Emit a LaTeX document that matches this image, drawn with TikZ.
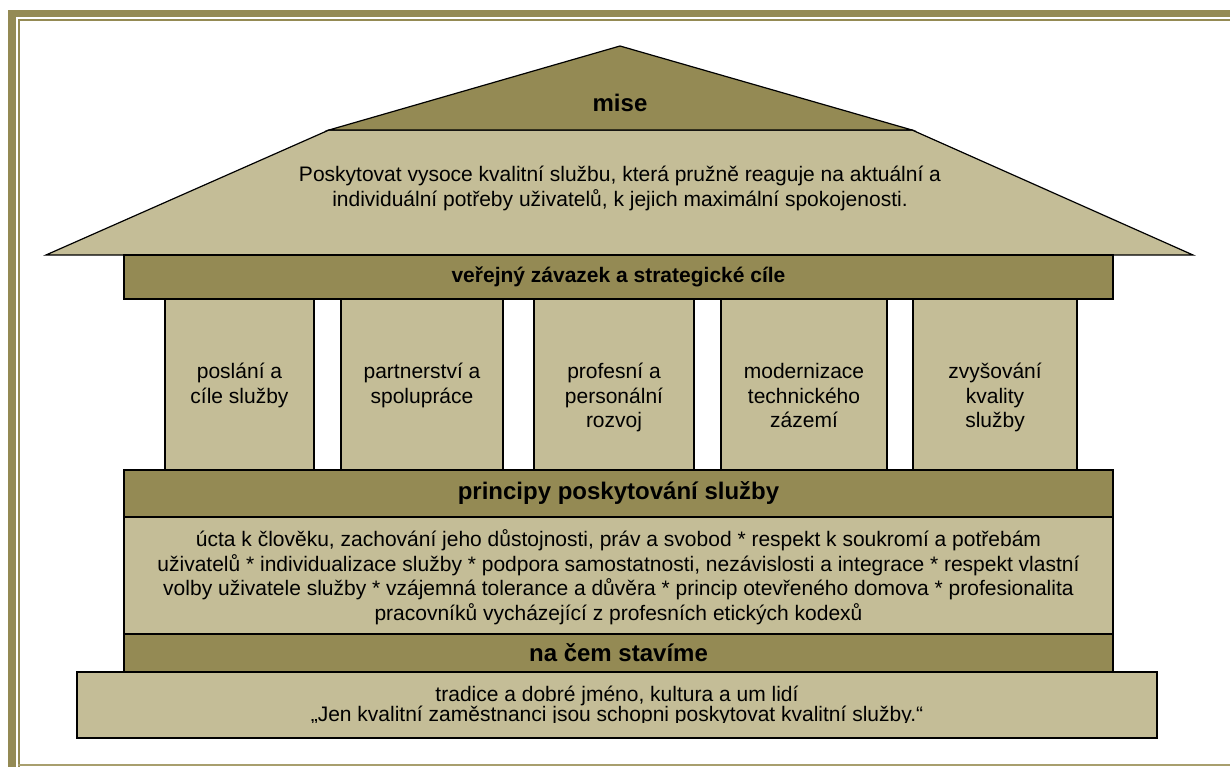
\documentclass[tikz,border=0pt]{standalone}
\usepackage{fontspec}
\setmainfont{Liberation Sans}
\usetikzlibrary{positioning}
\definecolor{olivedark}{RGB}{148,138,84}
\definecolor{olivelight}{RGB}{196,189,151}
\definecolor{oliveline}{RGB}{168,159,110}
\newcommand{\firstline}{\rule{0pt}{20pt}}
\tikzset{
  every node/.style={font=\fontsize{21}{24.5}\selectfont},
  band/.style={draw=black, line width=1.2pt, fill=olivedark, minimum width=989pt,
    inner sep=0pt, font=\fontsize{24}{28}\selectfont\bfseries},
  pane/.style={draw=black, line width=1.2pt, fill=olivelight, inner sep=0pt},
  pillar/.style={pane, minimum height=171pt},
  paneltext/.style={align=center, inner sep=0pt},
  roof/.style={draw=black, line width=1.2pt, line join=miter}
}

\begin{document}
\begin{tikzpicture}[x=1pt,y=-1pt]
  \useasboundingbox (0,0) rectangle (1230,767);
  % frame
  \fill[olivedark] (8,10) rectangle (1230,17);
  \fill[olivedark] (8,10) rectangle (16,767);
  \fill[olivedark] (18,19) rectangle (1230,21);
  \fill[olivedark] (18,19) rectangle (20,767);
  \fill[oliveline] (18,764) rectangle (1230,766);

  % roof
  \filldraw[roof, fill=olivelight] (46,255) -- (329,130) -- (912,130) -- (1193,255) -- cycle;
  \filldraw[roof, fill=olivedark] (329,130) -- (620,46) -- (912,130) -- cycle;
  \node[font=\fontsize{24}{28}\selectfont\bfseries] (mise) at (620,103) {mise};
  \node[paneltext, anchor=north] (poslani) at (620,161.7)
    {\firstline Poskytovat vysoce kvalitní službu, která pružně reaguje na aktuální a\\
     individuální potřeby uživatelů, k jejich maximální spokojenosti.};

  % pillars
  \node[pillar, minimum width=149pt] (p1) at (239.5,384.5) {};
  \node[pillar, minimum width=162pt] (p2) at (422,384.5) {};
  \node[pillar, minimum width=160pt] (p3) at (614,384.5) {};
  \node[pillar, minimum width=166pt] (p4) at (804,384.5) {};
  \node[pillar, minimum width=164pt] (p5) at (995,384.5) {};
  \node[paneltext, below=60pt of p1.north] (t1) {\firstline poslání a\\cíle služby};
  \node[paneltext, below=60pt of p2.north] (t2) {\firstline partnerství a\\spolupráce};
  \node[paneltext, below=60pt of p3.north] (t3) {\firstline profesní a\\personální\\rozvoj};
  \node[paneltext, below=60pt of p4.north] (t4) {\firstline modernizace\\technického\\zázemí};
  \node[paneltext, below=60pt of p5.north] (t5) {\firstline zvyšování\\kvality\\služby};

  % bands
  \node[band, minimum height=44pt, font=\fontsize{21}{24.5}\selectfont\bfseries] (zavazek)
    at (618.5,277) {veřejný závazek a strategické cíle};
  \node[band, minimum height=47pt] (principy) at (618.5,493.5) {principy poskytování služby};
  \node[pane, minimum width=989pt, minimum height=117pt] (hodnoty) at (618.5,575.5) {};
  \node[paneltext, below=10pt of hodnoty.north] (hodnotytext)
    {\firstline úcta k člověku, zachování jeho důstojnosti, práv a svobod * respekt k soukromí a potřebám\\
     uživatelů * individualizace služby * podpora samostatnosti, nezávislosti a integrace * respekt vlastní\\
     volby uživatele služby * vzájemná tolerance a důvěra * princip otevřeného domova * profesionalita\\
     pracovníků vycházející z profesních etických kodexů};
  \node[band, minimum height=38pt] (zaklad) at (618.5,653) {na čem stavíme};
  \node[pane, minimum width=1080pt, minimum height=66pt] (tradice) at (617,705) {};
  \begin{scope}
    \clip (77,672) rectangle (1157,722);
    \node[paneltext, font=\fontsize{21}{20}\selectfont, below=10pt of tradice.north] (motto)
      {\firstline tradice a dobré jméno, kultura a um lidí\\
       „Jen kvalitní zaměstnanci jsou schopni poskytovat kvalitní služby.“};
  \end{scope}
\end{tikzpicture}
\end{document}
